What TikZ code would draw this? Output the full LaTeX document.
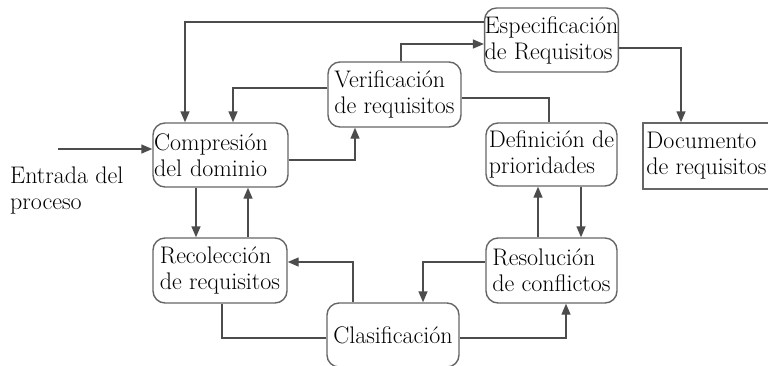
\documentclass[tikz,border=0pt]{standalone}
\usetikzlibrary{arrows.meta}

\begin{document}
\begin{tikzpicture}[x=1pt,y=-1pt,
  font=\fontsize{24}{26}\selectfont,
  caja/.style={draw=black!60, line width=1.4pt, rounded corners=12pt, align=left, inner xsep=0pt, inner ysep=2pt},
  flecha/.style={draw=black!70, line width=1.4pt, -{Triangle[length=11pt,width=9pt]}},
  linea/.style={draw=black!70, line width=1.4pt}]

\useasboundingbox (0,0) rectangle (768,365);

% cajas
\node[caja, minimum width=135pt, minimum height=64pt, text width=133pt] (comp) at (220.5,155) {Compresión\\del dominio};
\node[caja, minimum width=133pt, minimum height=65pt] (verif) at (394.5,94.5) {Verificación\\de requisitos};
\node[caja, minimum width=131pt, minimum height=64pt] (espec) at (551.5,40) {Especificación\\de Requisitos};
\node[caja, minimum width=131pt, minimum height=63pt] (defin) at (551.5,154.5) {Definición de\\prioridades};
\node[caja, rounded corners=0pt, minimum width=127pt, minimum height=66pt] (docu) at (706.5,156) {Documento\\de requisitos};
\node[caja, minimum width=134pt, minimum height=65pt] (recol) at (220,270.5) {Recolección\\de requisitos};
\node[caja, minimum width=131pt, minimum height=65pt] (resol) at (551.5,270.5) {Resolución\\de conflictos};
\node[caja, minimum width=132pt, minimum height=64pt] (clasif) at (393,335) {Clasificación};

% entrada
\node[anchor=west, align=left, inner sep=0pt] (entrada) at (10,191) {Entrada del\\proceso};
\coordinate (inicio) at (58,149);
\draw[flecha] (inicio) -- ([yshift=6pt]comp.west);

% lazo superior
\draw[flecha] ([yshift=18pt]espec.west) -| ([xshift=-35.5pt]comp.north);
\draw[flecha] ([yshift=6.5pt]verif.west) -| ([xshift=12.5pt]comp.north);
\draw[flecha] ([yshift=-5pt]comp.east) -| ([xshift=-39.5pt]verif.south);
\draw[flecha] ([xshift=6.5pt]verif.north) |- ([yshift=-4pt]espec.west);
\draw[flecha] ([yshift=-8pt]espec.east) -| ([xshift=-25.5pt]docu.north);
\draw[linea] ([yshift=-3.5pt]verif.east) -| ([xshift=-2.5pt]defin.north);

% lazo inferior
\draw[flecha] ([xshift=-24.5pt]comp.south) -- ([xshift=-24pt]recol.north);
\draw[flecha] ([xshift=28pt]recol.north) -- ([xshift=27.5pt]comp.south);
\draw[flecha] ([xshift=-40pt]clasif.north) |- ([yshift=8.5pt]recol.east);
\draw[linea] ([xshift=2pt]recol.south) |- ([yshift=-3pt]clasif.west);
\draw[flecha] ([yshift=-3pt]clasif.east) -| ([xshift=14.5pt]resol.south);
\draw[flecha] ([yshift=8.5pt]resol.west) -| ([xshift=30pt]clasif.north);
\draw[flecha] ([xshift=-13.5pt]resol.north) -- ([xshift=-13.5pt]defin.south);
\draw[flecha] ([xshift=29.5pt]defin.south) -- ([xshift=29.5pt]resol.north);

\end{tikzpicture}
\end{document}
